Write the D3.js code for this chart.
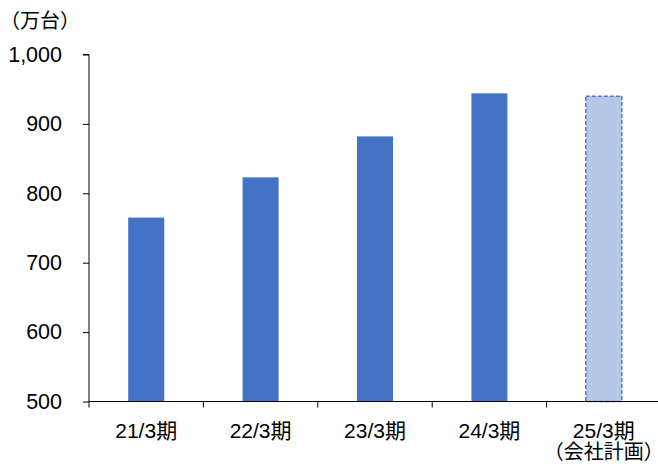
<!DOCTYPE html>
<html>
<head>
<meta charset="utf-8">
<script src="https://cdn.jsdelivr.net/npm/d3@7"></script>
<style>
  body { margin: 0; background: #fff; }
  text { font-family: "Liberation Sans", Arial, "Noto Sans CJK JP", sans-serif; }
</style>
</head>
<body>
<div id="chart"></div>
<script>
// データ（万台）
const categories = ["21/3期", "22/3期", "23/3期", "24/3期", "25/3期"];
const subLabels = ["", "", "", "", "（会社計画）"];
const values = [765, 823, 882, 944, 940];
const planFlags = [false, false, false, false, true];
const yTicks = [500, 600, 700, 800, 900, 1000];
const unitLabel = "（万台）";

const W = 658, H = 470;
const mLeft = 89, mRight = 661, mTop = 54.5, mBottom = 401.5;

const svg = d3.select("#chart").append("svg")
  .attr("width", W)
  .attr("height", H);

const x = d3.scaleBand().domain(categories).range([mLeft, mRight]).padding(0);
const y = d3.scaleLinear().domain([500, 1000]).range([mBottom, mTop]);

//単位
svg.append("text")
  .attr("x", 0)
  .attr("y", 28)
  .attr("font-size", 20)
  .attr("fill", "#000")
  .text(unitLabel);

//棒
const barW = x.bandwidth() * 0.315;
svg.selectAll("rect.bar").data(categories)
  .enter()
  .append("rect")
  .attr("class", "bar")
  .attr("x", d => x(d) + (x.bandwidth() - barW) / 2)
  .attr("width", barW)
  .attr("y", (d, i) => y(values[i]))
  .attr("height", (d, i) => y(500) - y(values[i]))
  .attr("fill", (d, i) => planFlags[i] ? "#B4C7E7" : "#4472C4")
  .attr("stroke", (d, i) => planFlags[i] ? "#4A7EC7" : "none")
  .attr("stroke-width", 1.5)
  .attr("stroke-dasharray", (d, i) => planFlags[i] ? "4,2" : null);

//Y軸
const yAxis = d3.axisLeft(y)
  .tickValues(yTicks)
  .tickSize(6)
  .tickPadding(21)
  .tickFormat(d3.format(","));

const gy = svg.append("g")
  .attr("transform", `translate(${mLeft},0)`)
  .call(yAxis);
gy.select(".domain").attr("stroke", "#000").attr("d", `M-6,${mTop}H0V${mBottom}`);
gy.selectAll(".tick line").attr("stroke", "#000");
gy.selectAll(".tick text").attr("font-size", 21.5).attr("fill", "#000")
  .style("font-family", "'Liberation Sans', Arial, sans-serif");

//X軸
const xAxis = d3.axisBottom(x).tickSize(0).tickPadding(0);
const gx = svg.append("g")
  .attr("transform", `translate(0,${mBottom})`)
  .call(xAxis);
gx.select(".domain").attr("stroke", "#000").attr("d", `M${mLeft},0H${W}`);
gx.selectAll(".tick text")
  .attr("font-size", 21)
  .attr("fill", "#000")
  .attr("dy", null)
  .attr("y", 36)
  .each(function (d, i) {
    if (subLabels[i]) {
      d3.select(this).append("tspan")
        .attr("x", 0)
        .attr("dy", 21.5)
        .attr("font-size", 20)
        .text(subLabels[i]);
    }
  });

//境界の目盛り
gx.selectAll("line.boundary").data(categories)
  .enter()
  .append("line")
  .attr("class", "boundary")
  .attr("x1", d => x(d))
  .attr("x2", d => x(d))
  .attr("y1", 0)
  .attr("y2", 6)
  .attr("stroke", "#000");
</script>
</body>
</html>
